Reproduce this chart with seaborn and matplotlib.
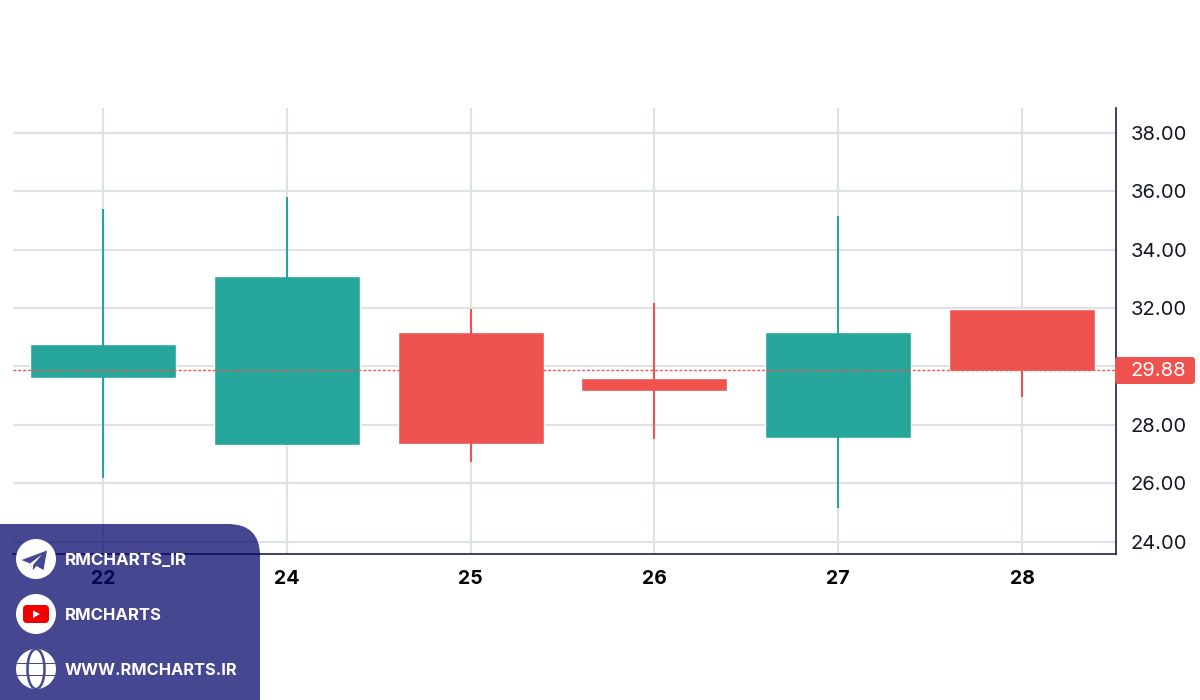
import seaborn as sns
import pandas as pd
import matplotlib.pyplot as plt
from matplotlib.patches import FancyBboxPatch, Circle, Polygon, Ellipse, Rectangle

days = ['22', '24', '25', '26', '27', '28']
opens = [29.62, 27.31, 31.18, 29.62, 27.55, 31.96]
closes = [30.76, 33.09, 27.34, 29.16, 31.18, 29.86]
highs = [35.39, 35.81, 31.97, 32.17, 35.15, 31.90]
lows = [26.18, 27.31, 26.72, 27.51, 25.15, 28.95]
yticks = [24, 26, 28, 30, 32, 34, 36, 38]
last_price = 29.88

green = '#26a69a'
red = '#ef5350'

candles = pd.DataFrame({'day': days, 'open': opens, 'close': closes, 'high': highs, 'low': lows})
candles['bottom'] = candles[['open', 'close']].min(axis=1)
candles['size'] = (candles['open'] - candles['close']).abs()
candles['colour'] = [green if c > o else red for o, c in zip(opens, closes)]

sns.set_style('white')
plt.rcParams['font.family'] = ['Inter', 'DejaVu Sans']

fig = plt.figure(figsize=(12, 7), dpi=100)
ax = fig.add_axes([13 / 1200, 146.5 / 700, 1102.5 / 1200, 445.5 / 700])

# candles
sns.barplot(data=candles, x='day', y='size', bottom=candles['bottom'].values, color=green,
            width=0.795, saturation=1, ax=ax)
for bar, colour in zip(ax.patches, candles['colour']):
    bar.set_facecolor(colour)
ax.vlines(range(len(days)), lows, highs, colors=candles['colour'], linewidth=1.5, zorder=1.5)

# grid
ax.set_axisbelow(True)
ax.grid(True, color='#dde2e5', linewidth=1.5)

ax.set_xlim(-0.49, 5.509)
ax.set_ylim(23.59, 38.857)
ax.set_xlabel('')
ax.set_ylabel('')

# last price
ax.axhline(last_price, color=red, linewidth=1, linestyle=(0, (2, 1.5)), zorder=3)

# axes (the 30.00 label sits under the price tag)
ax.yaxis.tick_right()
ax.set_yticks(yticks)
ax.set_yticklabels(['' if v == 30 else f'{v:.2f}' for v in yticks], fontsize=14.5, color='#131722')
ax.tick_params(axis='y', length=0, pad=11)
ax.tick_params(axis='x', length=0, pad=12)
for label in ax.get_xticklabels():
    label.set_fontsize(14)
    label.set_fontweight('bold')
    label.set_color('black')
ax.spines['top'].set_visible(False)
ax.spines['left'].set_visible(False)
ax.spines['right'].set_color('#1c1f4a')
ax.spines['bottom'].set_color('#1c1f4a')
ax.spines['right'].set_linewidth(1.2)
ax.spines['bottom'].set_linewidth(1.2)

# overlay in pixel coordinates
over = fig.add_axes([0, 0, 1, 1], zorder=5)
over.set_xlim(0, 1200)
over.set_ylim(700, 0)
over.axis('off')
over.patch.set_alpha(0)

# price tag
over.add_patch(FancyBboxPatch((1115, 357), 80, 27, boxstyle='round,pad=0,rounding_size=3',
                              fc=red, ec='none'))
over.text(1158, 370.5, f'{last_price:.2f}', color='white', fontsize=14.5, ha='center', va='center')

# watermark panel, see-through so the axis and the 22 show under it
panel = '#444791'
over.add_patch(FancyBboxPatch((-60, 524), 320, 260, boxstyle='round,pad=0,rounding_size=32',
                              fc='#060a6c', ec='none', alpha=0.75))

centres = [559, 614, 669]
for cy in centres:
    over.add_patch(Circle((36, cy), 20, fc='white', ec='none'))

# telegram
over.add_patch(Polygon([(47, 550.5), (21.5, 560), (30, 563.5), (33, 570), (36.5, 566),
                        (43.5, 570)], fc=panel, ec='none'))
over.add_patch(Polygon([(30, 563.5), (42, 554.5), (33, 565), (33, 570)], fc='white', ec='none'))

# youtube
over.add_patch(FancyBboxPatch((23, 605), 26, 18, boxstyle='round,pad=0,rounding_size=4',
                              fc='#f00000', ec='none'))
over.add_patch(Polygon([(33, 610.5), (33, 618), (40, 614)], fc='white', ec='none'))

# globe
globe_clip = Circle((36, 669), 20, transform=over.transData)
marks = [Ellipse((36, 669), 17, 40, fc='none', ec=panel, lw=1.8),
         Rectangle((16, 662.5), 40, 1.8, fc=panel, ec='none'),
         Rectangle((16, 674.5), 40, 1.8, fc=panel, ec='none')]
for mark in marks:
    over.add_patch(mark)
    mark.set_clip_path(globe_clip)

for cy, txt, size in zip(centres, ['RMCHARTS_IR', 'RMCHARTS', 'WWW.RMCHARTS.IR'], [12.2, 12, 11.8]):
    over.text(65, cy + 6, txt, color='white', fontsize=size, fontweight='bold', ha='left', va='baseline')

fig.savefig('out.png', dpi=100)
